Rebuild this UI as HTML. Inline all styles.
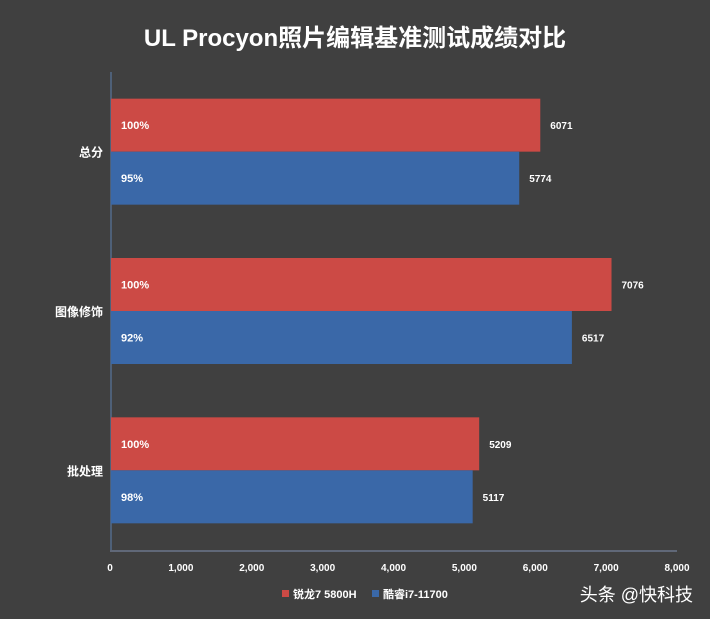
<!DOCTYPE html>
<html><head><meta charset="utf-8"><style>
body{margin:0;background:#404040;}
svg{display:block;font-family:"Liberation Sans","Noto Sans CJK SC",sans-serif;}
</style></head><body>
<svg id="c" width="710" height="619" viewBox="0 0 710 619">
<rect x="0" y="0" width="710" height="619" fill="#404040"/>
<text x="355" y="46" text-anchor="middle" fill="#fff" font-size="24" font-weight="bold">UL Procyon照片编辑基准测试成绩对比</text>
<g id="plot"></g>
<g>
<rect x="282" y="590" width="7" height="7" fill="#cc4a45"/>
<text x="293" y="598" fill="#fff" font-size="11" font-weight="bold">锐龙7 5800H</text>
<rect x="372" y="590" width="7" height="7" fill="#3a68a8"/>
<text x="383" y="598" fill="#fff" font-size="11" font-weight="bold">酷睿i7-11700</text>
</g>
<text x="693" y="601" text-anchor="end" fill="#fff" font-size="18">头条 @快科技</text>
</svg>
<script>
const categories=["总分","图像修饰","批处理"];
const ryzen=[6071,7076,5209];
const core=[5774,6517,5117];
const corePct=["95%","92%","98%"];
const ticks=[0,1000,2000,3000,4000,5000,6000,7000,8000];
const ns="http://www.w3.org/2000/svg";
const g=document.getElementById("plot");
const x0=110,x1=677,yTop=72,yBot=550,xMax=8000;
const xs=v=>x0+(v/xMax)*(x1-x0);
const band=(yBot-yTop)/categories.length;
function mk(t,a,txt){const e=document.createElementNS(ns,t);for(const k in a)e.setAttribute(k,a[k]);if(txt!==undefined)e.textContent=txt;g.appendChild(e);return e;}
const ax=mk("line",{x1:x0+1,y1:yTop,x2:x0+1,y2:yBot,stroke:"#5b7fb0","stroke-width":1});


const bx=mk("line",{x1:x0,y1:yBot+1,x2:x1,y2:yBot+1,stroke:"#8090b0","stroke-width":1});


ticks.forEach(t=>{
 const e=mk("text",{x:xs(t),y:571,"text-anchor":"middle",fill:"#fff","font-size":10,"font-weight":"bold"},t.toLocaleString("en-US"));
 
 
});
const bh=53;
categories.forEach((c,i)=>{
 const mid=yTop+band*i+band/2;
 const l=mk("text",{x:103,y:mid+5,"text-anchor":"end",fill:"#fff","font-size":12,"font-weight":"bold"},c);
 
 
 [[ryzen[i],"#cc4a45","100%","bar-ryzen"],[core[i],"#3a68a8",corePct[i],"bar-core"]].forEach((s,j)=>{
  const y=mid-bh+j*bh;
  const r=mk("rect",{x:x0+1,y:y,width:xs(s[0])-x0-1,height:bh,fill:s[1]});
  
  
  const p=mk("text",{x:121,y:y+bh/2+4,fill:"#fff","font-size":11,"font-weight":"bold"},s[2]);
  
  
  const v=mk("text",{x:xs(s[0])+10,y:y+bh/2+4,fill:"#fff","font-size":10,"font-weight":"bold"},s[0]);
  
  
 });
});
</script>
</body></html>
